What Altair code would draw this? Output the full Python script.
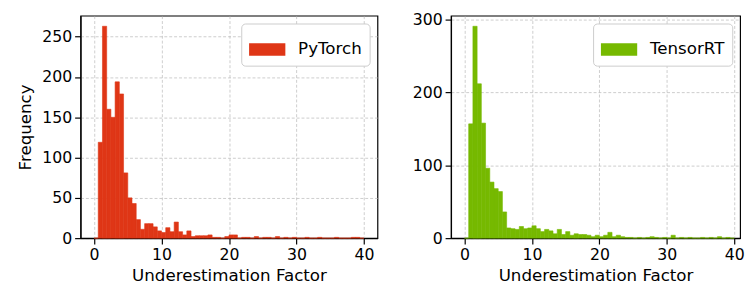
import altair as alt
import numpy as np
import pandas as pd

# 64 bins of equal width spanning 0..40
bin_edges = list(np.linspace(0, 40, 65))

pytorch_counts = [0, 119, 263, 160, 150, 194, 179, 81, 50, 43, 23, 11, 18, 18, 14, 9,
                  7, 13, 8, 20, 8, 4, 9, 2, 3, 3, 3, 4, 1, 1, 0, 2,
                  4, 4, 0, 1, 1, 0, 2, 0, 1, 1, 0, 2, 0, 1, 0, 1,
                  0, 0, 1, 0, 0, 1, 0, 0, 0, 1, 0, 0, 0, 1, 1, 0]
tensorrt_counts = [0, 157, 291, 212, 158, 96, 77, 68, 64, 36, 14, 13, 12, 16, 13, 14,
                   17, 13, 9, 12, 10, 6, 12, 5, 9, 4, 6, 5, 5, 4, 2, 4,
                   2, 4, 8, 2, 4, 2, 1, 1, 0, 1, 0, 1, 2, 1, 0, 1,
                   0, 4, 0, 1, 0, 1, 0, 0, 1, 0, 1, 0, 2, 0, 1, 0]

x_ticks = [0, 10, 20, 30, 40]
pytorch_y_ticks = [0, 50, 100, 150, 200, 250]
tensorrt_y_ticks = [0, 100, 200, 300]

FONT = "DejaVu Sans"
FS = 16


def make_df(counts, name):
    return pd.DataFrame({
        "start": bin_edges[:-1],
        "end": bin_edges[1:],
        "count": counts,
        "base": [0] * len(counts),
        "series": name,
    })


def hist(counts, name, color, yticks, ymax, ytitle, xdomain, width):
    yaxis_kwargs = dict(values=yticks)
    yaxis_kwargs["title"] = ytitle if ytitle else None
    return alt.Chart(make_df(counts, name)).mark_bar(
        stroke=color, strokeWidth=0.6
    ).encode(
        x=alt.X("start:Q",
                scale=alt.Scale(domain=xdomain, nice=False, zero=False),
                axis=alt.Axis(values=x_ticks, title="Underestimation Factor")),
        x2="end:Q",
        y=alt.Y("count:Q",
                scale=alt.Scale(domain=[0, ymax], nice=False, zero=True),
                axis=alt.Axis(**yaxis_kwargs)),
        y2="base:Q",
        color=alt.Color("series:N",
                        scale=alt.Scale(domain=[name], range=[color]),
                        legend=alt.Legend(
                            title=None, orient="top-right", offset=8,
                            padding=8, strokeColor="#cccccc", cornerRadius=4,
                            fillColor="white",
                            symbolType="M-1,-0.35H1V0.35H-1Z",
                            symbolSize=1369, symbolStrokeWidth=0,
                            symbolOpacity=1,
                            labelFont=FONT, labelFontSize=FS + 1,
                            labelOffset=13, labelColor="black",
                            zindex=2)),
    ).properties(width=width, height=227)


left = hist(pytorch_counts, "PyTorch", "#df3616", pytorch_y_ticks,
            max(pytorch_counts) * 1.05, "Frequency", [-2, 42], 303)
right = hist(tensorrt_counts, "TensorRT", "#76b900", tensorrt_y_ticks,
             max(tensorrt_counts) * 1.05, None, [-2, 40.86], 295)

chart = alt.hconcat(left, right, spacing=33).resolve_scale(
    color="independent", x="independent", y="independent"
).resolve_legend(color="independent").properties(
    padding={"left": 7, "top": 0, "right": 0, "bottom": 0}
).configure_view(
    stroke="black", strokeWidth=1.2
).configure_axis(
    labelFont=FONT, labelFontSize=FS, labelColor="black",
    titleFont=FONT, titleFontSize=FS + 1, titleColor="black",
    titleFontWeight="normal",
    domainColor="black", domainWidth=1.2,
    tickColor="black", tickWidth=1.2, tickSize=6,
    labelPadding=3,
    grid=True, gridColor="#b0b0b0", gridOpacity=0.8, gridDash=[3, 2],
    gridWidth=0.8, zindex=1,
).configure_axisX(
    titlePadding=5
).configure_axisY(
    titlePadding=8
)

chart.save("out.html", embed_options={"renderer": "svg", "actions": False})
